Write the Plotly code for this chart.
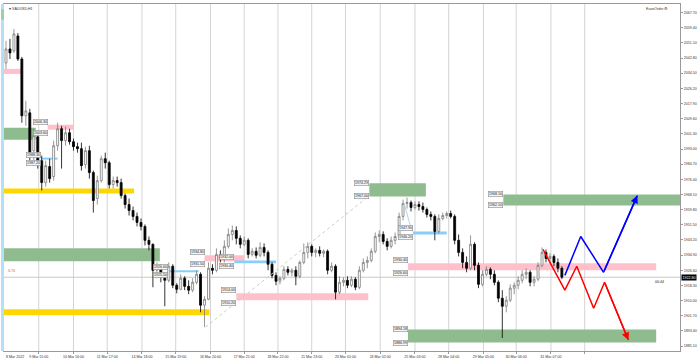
import plotly.graph_objects as go

# ---------------- data ----------------
bar_index = list(range(141))
opens = [2040.1, 2047.8, 2046.7, 2054.9, 2042.3, 2011.2, 2012.8, 1992.1, 1999.7, 1986.6,
         1974.6, 1983.4, 1977.9, 1994.8, 2004.1, 1997.6, 2001.9, 1997.0, 1994.3, 1993.2,
         1984.5, 1992.1, 1980.1, 1965.9, 1975.7, 1987.7, 1985.5, 1973.5, 1975.7, 1974.6,
         1967.5, 1962.6, 1959.3, 1956.1, 1952.8, 1950.6, 1943.0, 1940.8, 1926.6, 1928.8,
         1923.3, 1921.1, 1928.8, 1918.4, 1916.2, 1922.2, 1917.8, 1915.7, 1920.0, 1924.4,
         1907.5, 1910.7, 1927.7, 1926.6, 1935.3, 1933.1, 1939.7, 1946.2, 1948.4, 1944.1,
         1940.8, 1943.0, 1935.3, 1937.0, 1934.8, 1939.1, 1936.4, 1929.9, 1923.8, 1920.6,
         1922.2, 1927.1, 1925.5, 1926.6, 1923.3, 1930.9, 1936.4, 1939.7, 1936.4, 1937.5,
         1935.9, 1937.0, 1926.6, 1928.8, 1914.6, 1920.0, 1921.1, 1918.4, 1921.7, 1917.3,
         1926.6, 1930.9, 1932.0, 1937.0, 1945.1, 1946.2, 1942.4, 1939.7, 1943.0, 1945.1,
         1956.1, 1963.2, 1963.7, 1961.0, 1962.6, 1961.5, 1959.9, 1957.2, 1956.1, 1947.9,
         1955.0, 1956.6, 1957.7, 1956.1, 1943.0, 1936.4, 1930.9, 1927.7, 1940.8, 1929.3,
         1918.9, 1924.4, 1927.1, 1924.4, 1920.0, 1911.3, 1906.9, 1910.2, 1916.8, 1918.4,
         1921.1, 1924.4, 1925.5, 1920.0, 1921.7, 1929.3, 1936.4, 1933.1, 1934.2, 1930.9,
         1927.7]
highs = [2052.2, 2053.3, 2058.7, 2056.5, 2043.4, 2019.4, 2015.0, 2004.1, 2003.0, 1989.4,
         1986.6, 1987.7, 1997.6, 2007.4, 2005.7, 2005.2, 2004.1, 1998.7, 1996.5, 1996.5,
         1994.3, 1994.8, 1981.2, 1978.4, 1989.4, 1991.0, 1986.6, 1977.9, 1977.9, 1976.8,
         1968.6, 1965.9, 1961.5, 1958.2, 1955.0, 1951.7, 1945.1, 1941.3, 1930.9, 1929.9,
         1925.5, 1930.9, 1929.9, 1919.5, 1924.4, 1923.3, 1921.1, 1922.2, 1926.6, 1925.5,
         1912.4, 1930.9, 1929.9, 1938.6, 1937.5, 1943.0, 1949.5, 1951.1, 1950.6, 1945.7,
         1945.1, 1944.1, 1938.6, 1939.1, 1941.9, 1941.3, 1937.5, 1930.9, 1925.5, 1923.3,
         1928.8, 1928.8, 1927.7, 1928.8, 1932.0, 1941.3, 1941.9, 1940.8, 1938.6, 1939.7,
         1938.0, 1938.0, 1930.9, 1929.9, 1923.3, 1922.8, 1923.3, 1923.3, 1922.8, 1928.8,
         1933.1, 1934.2, 1938.6, 1947.3, 1948.4, 1947.9, 1944.1, 1945.1, 1947.3, 1958.2,
         1965.3, 1966.4, 1964.8, 1964.3, 1964.3, 1963.7, 1961.0, 1958.8, 1957.2, 1957.2,
         1958.2, 1958.8, 1959.3, 1957.2, 1946.2, 1938.6, 1934.2, 1945.7, 1941.9, 1930.9,
         1926.6, 1928.8, 1928.2, 1926.6, 1921.1, 1915.7, 1912.4, 1918.9, 1920.0, 1923.3,
         1926.6, 1927.7, 1926.6, 1923.3, 1930.9, 1939.1, 1938.0, 1935.9, 1935.3, 1933.1,
         1928.8]
lows = [2036.9, 2042.3, 2045.6, 2041.2, 2007.4, 2005.7, 1986.6, 1983.9, 1982.3, 1970.3,
        1972.4, 1974.6, 1975.7, 1992.1, 1982.3, 1994.8, 1995.4, 1992.1, 1991.0, 1981.2,
        1982.3, 1976.8, 1958.2, 1962.6, 1974.6, 1982.3, 1971.4, 1971.4, 1972.4, 1965.9,
        1960.4, 1956.6, 1953.9, 1950.6, 1948.4, 1940.2, 1937.5, 1917.3, 1922.2, 1920.0,
        1906.9, 1920.0, 1916.8, 1914.0, 1915.7, 1915.7, 1913.5, 1914.6, 1918.9, 1903.6,
        1895.5, 1910.2, 1924.4, 1925.5, 1930.9, 1930.9, 1938.6, 1943.0, 1940.8, 1938.6,
        1939.7, 1933.1, 1934.2, 1933.1, 1933.7, 1934.2, 1926.6, 1922.2, 1918.4, 1918.9,
        1921.1, 1923.8, 1923.3, 1918.4, 1922.2, 1929.9, 1933.1, 1934.2, 1933.7, 1934.2,
        1933.7, 1924.4, 1925.5, 1910.7, 1913.5, 1917.8, 1916.8, 1917.3, 1915.7, 1916.2,
        1925.5, 1927.7, 1930.9, 1935.9, 1941.9, 1940.8, 1937.5, 1938.6, 1940.8, 1944.1,
        1953.9, 1960.4, 1958.8, 1959.9, 1959.3, 1958.2, 1955.5, 1953.9, 1943.0, 1946.8,
        1953.9, 1955.0, 1955.0, 1940.8, 1934.2, 1927.7, 1925.5, 1926.6, 1926.6, 1916.8,
        1917.8, 1923.3, 1921.7, 1918.4, 1909.1, 1889.5, 1903.6, 1909.1, 1913.5, 1916.2,
        1919.5, 1921.7, 1917.8, 1917.8, 1920.6, 1928.2, 1930.9, 1930.4, 1928.8, 1925.5,
        1921.7]
closes = [2047.8, 2045.6, 2056.0, 2042.3, 2011.2, 2013.9, 1991.0, 2000.3, 1986.6, 1974.6,
          1983.9, 1976.8, 1994.8, 2004.1, 1997.6, 2001.9, 1997.0, 1994.3, 1993.2, 1983.9,
          1992.1, 1980.1, 1964.8, 1975.7, 1987.7, 1985.5, 1973.5, 1975.7, 1974.6, 1967.5,
          1962.6, 1959.3, 1956.1, 1952.8, 1950.6, 1943.0, 1940.8, 1926.6, 1928.8, 1923.3,
          1921.1, 1928.8, 1918.4, 1916.2, 1922.2, 1917.8, 1915.7, 1920.0, 1924.4, 1907.5,
          1910.7, 1927.7, 1926.6, 1935.3, 1933.1, 1939.7, 1946.2, 1948.4, 1944.1, 1940.8,
          1943.0, 1935.3, 1937.0, 1934.8, 1939.1, 1936.4, 1929.9, 1923.8, 1920.6, 1922.2,
          1927.1, 1925.5, 1926.6, 1923.3, 1930.9, 1936.4, 1939.7, 1936.4, 1937.5, 1935.9,
          1937.0, 1926.6, 1928.8, 1914.6, 1920.0, 1921.1, 1918.4, 1921.7, 1917.3, 1926.6,
          1930.9, 1932.0, 1937.0, 1945.1, 1946.2, 1942.4, 1939.7, 1943.0, 1945.1, 1956.1,
          1963.2, 1963.7, 1961.0, 1962.6, 1961.5, 1959.9, 1957.2, 1956.1, 1947.9, 1955.0,
          1956.6, 1957.7, 1956.1, 1943.0, 1936.4, 1930.9, 1927.7, 1940.8, 1929.3, 1918.9,
          1924.4, 1927.1, 1924.4, 1920.0, 1911.3, 1906.9, 1910.2, 1916.8, 1918.4, 1921.1,
          1924.4, 1925.5, 1920.0, 1921.7, 1929.3, 1936.4, 1933.1, 1934.2, 1930.9, 1927.7,
          1922.8]

first_label = "8 Mar 2022"
grid_bars = [8.25, 17.0, 25.5, 34.25, 42.75, 51.5, 60.0, 68.5, 77.0, 85.5, 94.25,
             103.0, 111.5, 120.25, 128.5, 137.25, 145.75]
time_labels = ["9 Mar 15:00", "10 Mar 16:00", "11 Mar 17:00", "14 Mar 18:00",
               "15 Mar 19:00", "16 Mar 20:00", "17 Mar 21:00", "18 Mar 22:00",
               "21 Mar 23:00", "23 Mar 01:00", "24 Mar 02:00", "25 Mar 03:00",
               "28 Mar 04:00", "29 Mar 05:00", "30 Mar 06:00", "31 Mar 07:00", ""]
price_ticks = [2067.70, 2059.40, 2051.10, 2042.80, 2034.50, 2026.20, 2017.90, 2009.60,
               2001.30, 1993.00, 1984.70, 1976.40, 1968.10, 1959.80, 1951.50, 1943.20,
               1934.90, 1926.60, 1918.30, 1910.00, 1901.70, 1893.40, 1885.10]

# zones (supply/demand rectangles)
zone_start = [-1.25, -1.25, 10.5, 8.75, -1.25, -1.25, -1.25, 40.75, 50.0, 57.5, 58.0,
              91.5, 102.5, 101.25, 101.25, 125.25]
zone_end = [3.75, 7.5, 17.0, 13.0, 32.25, 38.75, 51.25, 48.5, 60.0, 68.0, 91.25,
            105.75, 111.0, 163.75, 163.75, 172.0]
zone_low = [2034.1, 1998.1, 2003.6, 1987.2, 1968.6, 1931.5, 1902.0, 1925.5, 1931.5,
            1930.4, 1910.2, 1967.00, 1946.2, 1926.6, 1886.99, 1962.10]
zone_high = [2036.9, 2004.7, 2006.3, 1988.3, 1971.4, 1938.6, 1905.3, 1926.6, 1934.8,
             1932.0, 1914.0, 1974.29, 1947.9, 1930.4, 1894.18, 1968.10]
zone_kind = ["sell", "buy", "sell", "mid", "key", "buy", "key", "mid", "sell", "mid",
             "sell", "buy", "mid", "sell", "buy", "buy"]
zone_labelled = [False, False, True, True, False, False, False, True, True, True, True,
                 True, True, True, True, True]

trend_bars = [50.25, 91.25]
trend_prices = [1895.5, 1967.0]
link_bars = [100.25, 102.25]
link_prices = [1963.2, 1947.9]

bull_path_bars = [140.75, 144.75, 150.5, 159.0]
bull_path_prices = [1923.8, 1945.1, 1925.5, 1967.5]
bear_path_bars = [135.25, 140.75, 143.75, 148.0, 150.75, 156.75]
bear_path_prices = [1938.0, 1915.7, 1928.8, 1905.8, 1920.0, 1888.4]

bid_price = 1922.80
symbol_text = "XAUUSD,H1"
timer_text = "00:44"
left_info = "3.74"

kind_color = {"sell": "#FFC0CB", "buy": "#8FBC8F", "key": "#FFD700", "mid": "#87CEFA"}

FONT = "Liberation Sans"
FS = 3.6

fig = go.Figure()

shapes = []
# vertical grid
for gb in grid_bars:
    shapes.append(dict(type="line", xref="x", yref="paper", x0=gb, x1=gb, y0=0, y1=1,
                       line=dict(color="#d4d4d4", width=1), layer="below"))
# zones
for x0, x1, lo, hi, k in zip(zone_start, zone_end, zone_low, zone_high, zone_kind):
    shapes.append(dict(type="rect", xref="x", yref="y", x0=x0, x1=x1, y0=lo, y1=hi,
                       fillcolor=kind_color[k], line=dict(width=0), layer="below"))
# bid line
shapes.append(dict(type="line", xref="paper", yref="y", x0=0, x1=1, y0=bid_price,
                   y1=bid_price, line=dict(color="#c8c8c8", width=1), layer="below"))
# left strip
shapes.append(dict(type="rect", xref="paper", yref="paper", x0=-0.0044, x1=0, y0=0,
                   y1=1, fillcolor="#b5def7", line=dict(width=0), layer="above"))
shapes.append(dict(type="rect", xref="paper", yref="paper", x0=-0.0044, x1=0, y0=0.955,
                   y1=0.985, fillcolor="#9ccfa4", line=dict(width=0), layer="above"))

fig.add_trace(go.Candlestick(
    x=bar_index, open=opens, high=highs, low=lows, close=closes,
    increasing=dict(line=dict(color="#7c7c7c", width=0.8), fillcolor="#ffffff"),
    decreasing=dict(line=dict(color="#000000", width=0.8), fillcolor="#000000"),
    whiskerwidth=0, hoverinfo="skip", showlegend=False))

fig.add_trace(go.Scatter(x=trend_bars, y=trend_prices, mode="lines",
                         line=dict(color="#bcd2bc", width=1, dash="dot"),
                         hoverinfo="skip", showlegend=False))
fig.add_trace(go.Scatter(x=link_bars, y=link_prices, mode="lines",
                         line=dict(color="#a6d6f2", width=1),
                         hoverinfo="skip", showlegend=False))
fig.add_trace(go.Scatter(x=bull_path_bars, y=bull_path_prices, mode="lines",
                         line=dict(color="#0000ff", width=1.5),
                         hoverinfo="skip", showlegend=False))
fig.add_trace(go.Scatter(x=bear_path_bars, y=bear_path_prices, mode="lines",
                         line=dict(color="#ff0000", width=1.5),
                         hoverinfo="skip", showlegend=False))

annotations = []
for bx, by, col in [(bull_path_bars, bull_path_prices, "#0000ff"),
                    (bear_path_bars, bear_path_prices, "#ff0000")]:
    annotations.append(dict(x=bx[-1], y=by[-1], ax=bx[-2], ay=by[-2], xref="x", yref="y",
                            axref="x", ayref="y", text="", showarrow=True, arrowhead=2,
                            arrowsize=1, arrowwidth=1.5, arrowcolor=col))

for x0, lo, hi, lab in zip(zone_start, zone_low, zone_high, zone_labelled):
    if not lab:
        continue
    thin = (hi - lo) < 4
    for v, anc in ((hi, "bottom" if thin else "middle"), (lo, "top" if thin else "middle")):
        annotations.append(dict(x=x0, y=v, xref="x", yref="y", xanchor="right",
                                yanchor=anc, text=f"{v:.2f}", showarrow=False,
                                font=dict(family=FONT, size=FS, color="#222222"),
                                bgcolor="#f4f4f4", bordercolor="#8a8a8a",
                                borderwidth=0.6, borderpad=0.3))

# first time label at left edge
annotations.append(dict(x=0, y=0, xref="paper", yref="paper", xanchor="left",
                        yanchor="top", yshift=-2, text=first_label, showarrow=False,
                        font=dict(family=FONT, size=FS, color="#333333")))
annotations.append(dict(x=0.004, y=1, xref="paper", yref="paper", xanchor="left",
                        yanchor="top", yshift=-1, text="\u25be " + symbol_text,
                        showarrow=False, font=dict(family=FONT, size=FS, color="#333333")))
annotations.append(dict(x=0.985, y=1, xref="paper", yref="paper", xanchor="right",
                        yanchor="top", yshift=-1, text="EaseOrder \u2699", showarrow=False,
                        font=dict(family=FONT, size=FS, color="#333333")))
annotations.append(dict(x=1, y=bid_price, xref="paper", yref="y", xanchor="left",
                        yanchor="middle", xshift=1, text=f"{bid_price:.2f}",
                        showarrow=False, bgcolor="#000000",
                        font=dict(family=FONT, size=FS, color="#ffffff"), borderpad=0.5))
annotations.append(dict(x=0.98, y=bid_price, xref="paper", yref="y", xanchor="right",
                        yanchor="top", yshift=-1, text=timer_text, showarrow=False,
                        font=dict(family=FONT, size=FS, color="#222222")))
annotations.append(dict(x=0.003, y=bid_price, xref="paper", yref="y", xanchor="left",
                        yanchor="bottom", yshift=2, text=left_info, showarrow=False,
                        font=dict(family=FONT, size=FS, color="#ff4500")))

fig.update_layout(
    width=700, height=362,
    margin=dict(l=3, r=16, t=3, b=11),
    paper_bgcolor="#ffffff", plot_bgcolor="#ffffff",
    shapes=shapes, annotations=annotations, showlegend=False,
    xaxis=dict(range=[-0.5, 169.75], tickmode="array", tickvals=grid_bars,
               ticktext=time_labels, showgrid=False, zeroline=False,
               showline=True, mirror=True, linecolor="#9a9a9a", linewidth=1,
               ticks="outside", ticklen=2, tickcolor="#9a9a9a",
               tickfont=dict(family=FONT, size=FS, color="#333333"),
               rangeslider=dict(visible=False), fixedrange=True),
    yaxis=dict(range=[1882.4, 2072.4], side="right", tickmode="array",
               tickvals=price_ticks, ticktext=[f"{p:.2f}" for p in price_ticks],
               showgrid=False, zeroline=False, showline=True, mirror=True,
               linecolor="#9a9a9a", linewidth=1, ticks="outside", ticklen=2,
               tickcolor="#9a9a9a", tickfont=dict(family=FONT, size=FS, color="#333333"),
               fixedrange=True),
)

fig.write_html("out.html", config={"displayModeBar": False},
               post_script="document.body.style.margin='0px';"
                           "document.body.style.overflow='hidden';")
